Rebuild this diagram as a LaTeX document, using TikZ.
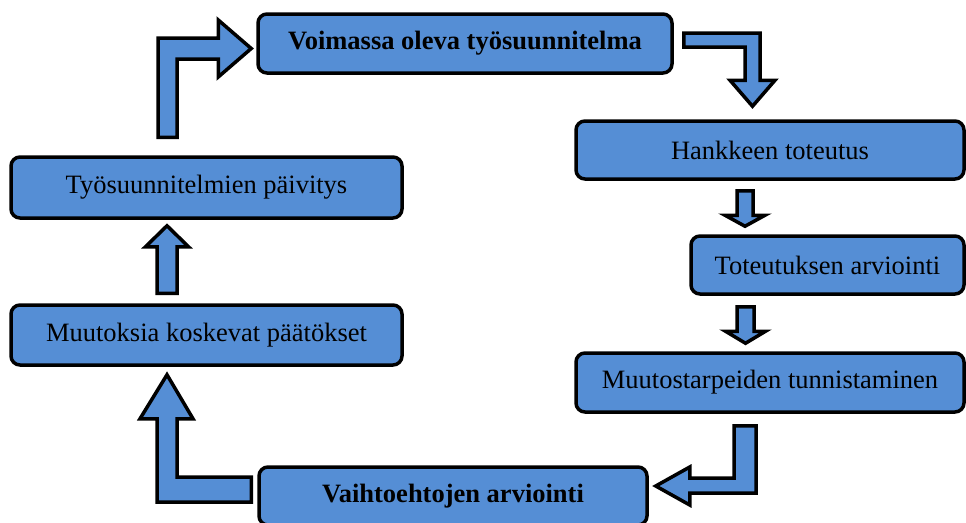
\documentclass[tikz,border=0pt]{standalone}
\usepackage{fontspec}
\setmainfont{Liberation Serif}
\usetikzlibrary{calc}
\definecolor{boxblue}{RGB}{85,142,213}
\tikzset{
  stagebox/.style={draw=black, fill=boxblue, line width=3.5pt, rounded corners=9pt,
    inner sep=0pt, anchor=center, align=center,
    font=\fontsize{26.5}{30}\selectfont},
  keybox/.style={stagebox, font=\fontsize{26.5}{30}\selectfont\bfseries},
  blockarrow/.style={draw=black, fill=boxblue, line width=3.5pt, line join=miter}
}
\begin{document}
\begin{tikzpicture}[x=1pt,y=-1pt]
\useasboundingbox (0,0) rectangle (966,522);
\fill[white] (0,0) rectangle (966,522);
\clip (0,0) rectangle (966,522);

% stages of the cycle
\node[keybox, minimum width=414pt, minimum height=59pt] (b1) at (465,43.5) {Voimassa oleva työsuunnitelma};
\node[stagebox, minimum width=388pt, minimum height=58pt] (b2) at (770,150) {Hankkeen toteutus};
\node[stagebox, minimum width=273pt, minimum height=58pt] (b3) at (827.5,265) {Toteutuksen arviointi};
\node[stagebox, minimum width=388pt, minimum height=59pt] (b4) at (770,382.5) {Muutostarpeiden tunnistaminen};
\node[keybox, minimum width=388pt, minimum height=58pt] (b5) at (453,496) {Vaihtoehtojen arviointi};
\node[stagebox, minimum width=391pt, minimum height=60pt] (b6) at (206.5,335) {Muutoksia koskevat päätökset};
\node[stagebox, minimum width=391pt, minimum height=61pt] (b7) at (206.5,187.5) {Työsuunnitelmien päivitys};

% b7 -> b1 : bent arrow, up then right
\coordinate (aT) at ($(b7.north)+(-39,-18)$);
\coordinate (aP) at ($(b1.west)+(-5,5)$);
\draw[blockarrow] ($(aT)+(-9.5,0)$) -- ($(aT |- aP)+(-9.5,-10.5)$) -- ($(aP)+(-33,-10.5)$)
  -- ($(aP)+(-33,-28.5)$) -- (aP) -- ($(aP)+(-33,28.5)$) -- ($(aP)+(-33,10.5)$)
  -- ($(aT |- aP)+(9.5,10.5)$) -- ($(aT)+(9.5,0)$) -- cycle;

% b1 -> b2 : bent arrow, right then down
\coordinate (bT) at ($(b1.east)+(10,-3.5)$);
\coordinate (bP) at ($(b2.north)+(-17.5,-13)$);
\draw[blockarrow] ($(bT)+(0,-7)$) -- ($(bP |- bT)+(7.5,-7)$) -- ($(bP)+(7.5,-26)$)
  -- ($(bP)+(22.5,-26)$) -- (bP) -- ($(bP)+(-22.5,-26)$) -- ($(bP)+(-7.5,-26)$)
  -- ($(bP |- bT)+(-7.5,7)$) -- ($(bT)+(0,7)$) -- cycle;

% b2 -> b3 : straight arrow down
\coordinate (cP) at ($(b3.north)+(-82.5,-8)$);
\coordinate (cT) at ($(cP |- b2.south)+(0,10)$);
\draw[blockarrow] ($(cT)+(-8,0)$) -- ($(cP)+(-8,-11)$) -- ($(cP)+(-20,-11)$) -- (cP)
  -- ($(cP)+(20,-11)$) -- ($(cP)+(8,-11)$) -- ($(cT)+(8,0)$) -- cycle;

% b3 -> b4 : straight arrow down
\coordinate (dP) at ($(b4.north)+(-24.5,-8)$);
\coordinate (dT) at ($(dP |- b3.south)+(0,11)$);
\draw[blockarrow] ($(dT)+(-8.5,0)$) -- ($(dP)+(-8.5,-12)$) -- ($(dP)+(-20,-12)$) -- (dP)
  -- ($(dP)+(20,-12)$) -- ($(dP)+(8.5,-12)$) -- ($(dT)+(8.5,0)$) -- cycle;

% b4 -> b5 : bent arrow, down then left
\coordinate (eT) at ($(b4.south)+(-25,12)$);
\coordinate (eP) at ($(b5.east)+(7,-10)$);
\draw[blockarrow] ($(eT)+(-11,0)$) -- ($(eT |- eP)+(-11,-8)$) -- ($(eP)+(34,-8)$)
  -- ($(eP)+(34,-19)$) -- (eP) -- ($(eP)+(34,19)$) -- ($(eP)+(34,7)$)
  -- ($(eT |- eP)+(11,7)$) -- ($(eT)+(11,0)$) -- cycle;

% b5 -> b6 : bent arrow, left then up
\coordinate (fT) at ($(b5.west)+(-6,-6.5)$);
\coordinate (fP) at ($(b6.south)+(-39.5,8)$);
\draw[blockarrow] ($(fT)+(0,-12.5)$) -- ($(fP |- fT)+(10,-12.5)$) -- ($(fP)+(10,44)$)
  -- ($(fP)+(26,44)$) -- (fP) -- ($(fP)+(-27,44)$) -- ($(fP)+(-10,44)$)
  -- ($(fP |- fT)+(-10,12.5)$) -- ($(fT)+(0,12.5)$) -- cycle;

% b6 -> b7 : straight arrow up
\coordinate (gP) at ($(b7.south)+(-39.5,6)$);
\coordinate (gT) at ($(gP |- b6.north)+(0,-10)$);
\draw[blockarrow] ($(gT)+(-10,0)$) -- ($(gP)+(-10,21)$) -- ($(gP)+(-21.5,21)$) -- (gP)
  -- ($(gP)+(21.5,21)$) -- ($(gP)+(10,21)$) -- ($(gT)+(10,0)$) -- cycle;
\end{tikzpicture}
\end{document}
